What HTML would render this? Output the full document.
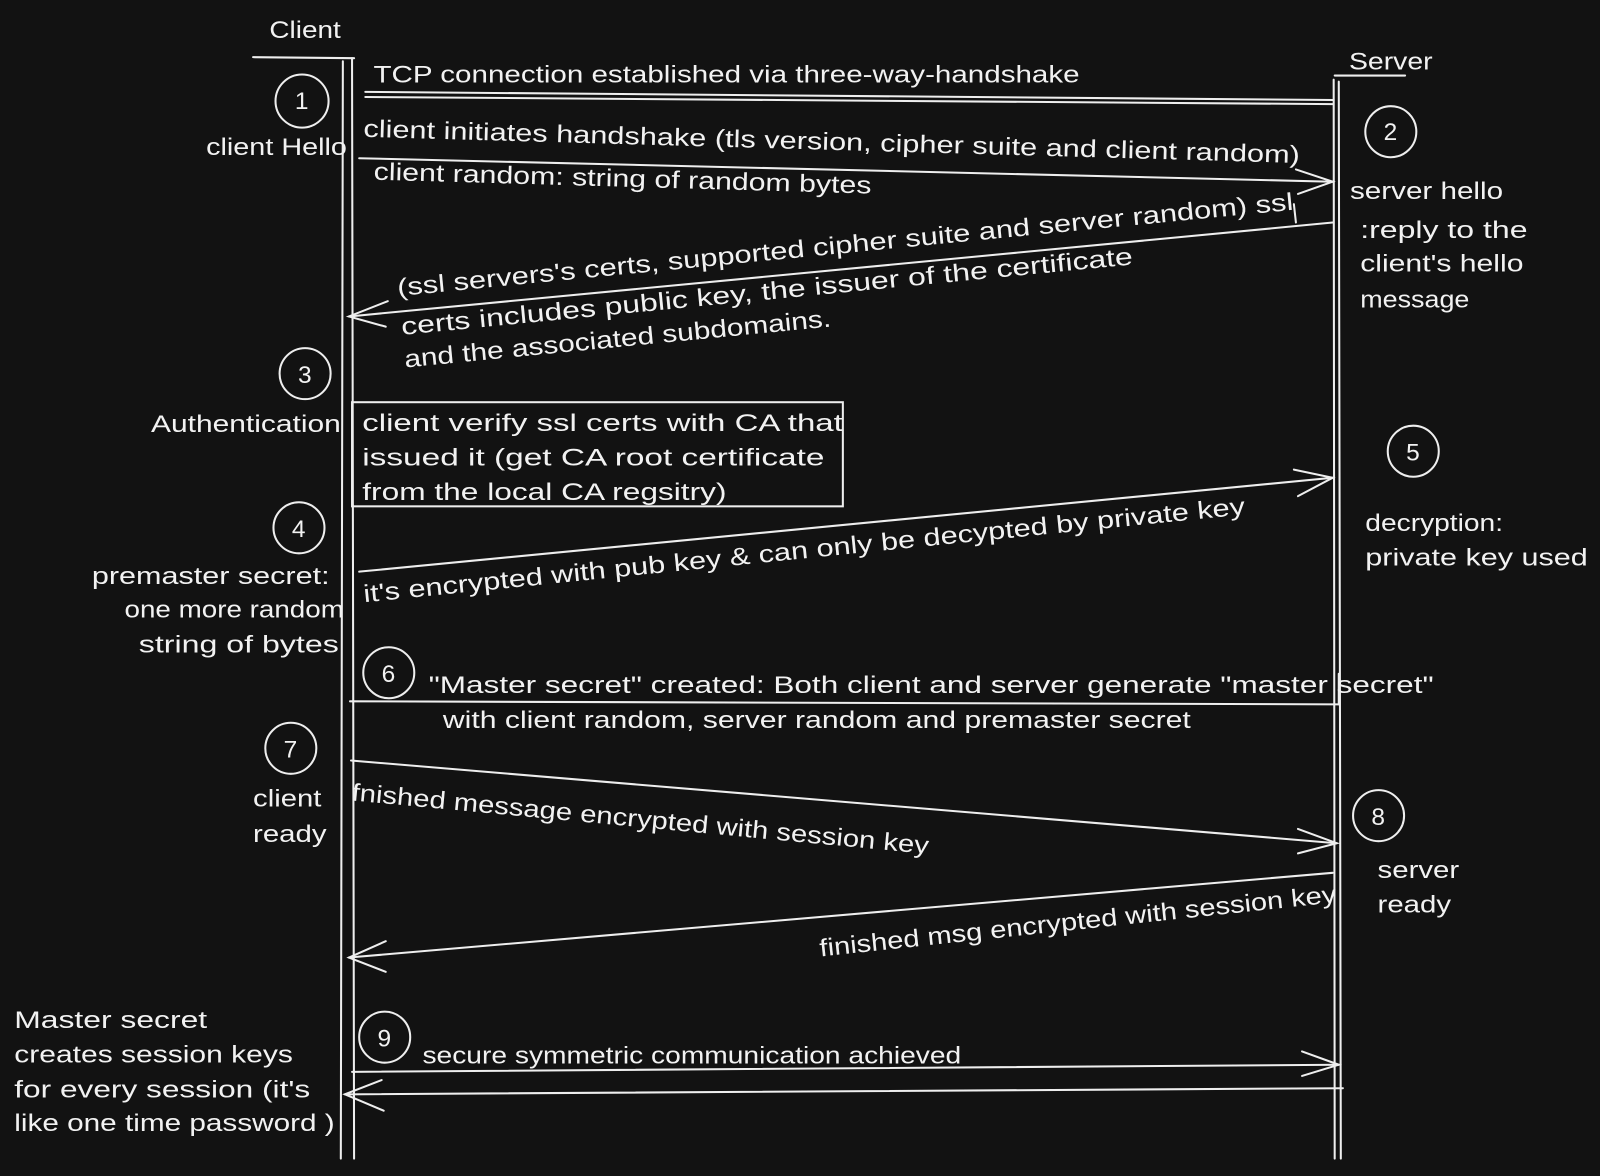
<!DOCTYPE html>
<html><head><meta charset="utf-8"><style>
html,body{margin:0;padding:0;background:#121212;}
svg{display:block;}
text{font-family:"Liberation Sans",sans-serif;fill:#f2f2f2;font-size:24px;}
</style></head><body>
<svg width="1600" height="1176" viewBox="0 0 1568 1152" preserveAspectRatio="none" xmlns="http://www.w3.org/2000/svg">
<rect width="1568" height="1152" fill="#121212"/>
<g stroke="#eeeeee" stroke-width="2" fill="none" stroke-linecap="round">
<path d="M248 56 L347 57"/><path d="M345 57 L347 1135"/><path d="M336 60 L334 1135"/>
<path d="M1308 74 L1377 74"/><path d="M1307 78 L1308 1135"/><path d="M1312 80 L1314 1135"/>
<path d="M358 90 L1307 98"/><path d="M358 95 L1306 102"/>
<path d="M352 155 L1306 178"/><path d="M1270 166 L1306 178 L1272 190"/>
<path d="M1306 218 L342 310"/><path d="M380 295 L342 310 L378 320"/><path d="M1268 200 L1270 218"/>
<rect x="345" y="394" width="481" height="102"/>
<path d="M352 560 L1306 468"/><path d="M1268 460 L1306 468 L1272 486"/>
<path d="M343 687 L1312 690"/><path d="M1312 660 L1312 690"/>
<path d="M344 745 L1310 826"/><path d="M1272 812 L1310 826 L1272 836"/>
<path d="M1306 855 L342 938"/><path d="M378 922 L342 938 L378 952"/>
<path d="M345 1050 L1312 1043"/><path d="M1276 1030 L1312 1043 L1276 1054"/>
<path d="M1316 1066 L338 1072"/><path d="M374 1058 L338 1072 L376 1088"/>
<circle cx="296" cy="99" r="26"/><circle cx="1363" cy="129" r="25"/><circle cx="299" cy="366" r="25"/>
<circle cx="1385" cy="442" r="25"/><circle cx="293" cy="517" r="25"/><circle cx="381" cy="659" r="25"/>
<circle cx="285" cy="733" r="25"/><circle cx="1351" cy="799" r="25"/><circle cx="377" cy="1016" r="25"/>
</g>
<g>
<text x="264" y="37" textLength="70" lengthAdjust="spacingAndGlyphs">Client</text>
<text x="1322" y="68" textLength="82" lengthAdjust="spacingAndGlyphs">Server</text>
<text x="366" y="81" textLength="692" lengthAdjust="spacingAndGlyphs">TCP connection established via three-way-handshake</text>
<text x="289" y="107">1</text><text x="1356" y="137">2</text><text x="292" y="375">3</text>
<text x="1378" y="451">5</text><text x="286" y="526">4</text><text x="374" y="668">6</text>
<text x="278" y="742">7</text><text x="1344" y="808">8</text><text x="370" y="1025">9</text>
<text x="202" y="152" textLength="138" lengthAdjust="spacingAndGlyphs">client Hello</text>
<text x="356" y="134" transform="rotate(1.6 356 134)" textLength="918" lengthAdjust="spacingAndGlyphs">client initiates handshake (tls version, cipher suite and client random)</text>
<text x="366" y="176" transform="rotate(1.6 366 176)" textLength="488" lengthAdjust="spacingAndGlyphs">client random: string of random bytes</text>
<text x="1323" y="195" textLength="150" lengthAdjust="spacingAndGlyphs">server hello</text>
<text x="1333" y="233" textLength="164" lengthAdjust="spacingAndGlyphs">:reply to the</text>
<text x="1333" y="266" textLength="160" lengthAdjust="spacingAndGlyphs">client's hello</text>
<text x="1333" y="301" textLength="107" lengthAdjust="spacingAndGlyphs">message</text>
<text x="390" y="290" transform="rotate(-5.5 390 290)" textLength="882" lengthAdjust="spacingAndGlyphs">(ssl servers's certs, supported cipher suite and server random) ssl</text>
<text x="394" y="328" transform="rotate(-5.5 394 328)" textLength="720" lengthAdjust="spacingAndGlyphs">certs includes public key, the issuer of the certificate</text>
<text x="397" y="360" transform="rotate(-5.5 397 360)" textLength="420" lengthAdjust="spacingAndGlyphs">and the associated subdomains.</text>
<text x="148" y="423" textLength="186" lengthAdjust="spacingAndGlyphs">Authentication</text>
<text x="355" y="422" textLength="471" lengthAdjust="spacingAndGlyphs">client verify ssl certs with CA that</text>
<text x="355" y="456" textLength="453" lengthAdjust="spacingAndGlyphs">issued it (get CA root certificate</text>
<text x="355" y="490" textLength="357" lengthAdjust="spacingAndGlyphs">from the local CA regsitry)</text>
<text x="357" y="590" transform="rotate(-5.7 357 590)" textLength="868" lengthAdjust="spacingAndGlyphs">it's encrypted with pub key &amp; can only be decypted by private key</text>
<text x="1338" y="520" textLength="135" lengthAdjust="spacingAndGlyphs">decryption:</text>
<text x="1338" y="554" textLength="218" lengthAdjust="spacingAndGlyphs">private key used</text>
<text x="90" y="572" textLength="233" lengthAdjust="spacingAndGlyphs">premaster secret:</text>
<text x="122" y="605" textLength="215" lengthAdjust="spacingAndGlyphs">one more random</text>
<text x="136" y="639" textLength="196" lengthAdjust="spacingAndGlyphs">string of bytes</text>
<text x="420" y="679" textLength="985" lengthAdjust="spacingAndGlyphs">"Master secret" created: Both client and server generate "master secret"</text>
<text x="434" y="713" textLength="733" lengthAdjust="spacingAndGlyphs">with client random, server random and premaster secret</text>
<text x="248" y="790" textLength="67" lengthAdjust="spacingAndGlyphs">client</text>
<text x="248" y="825" textLength="72" lengthAdjust="spacingAndGlyphs">ready</text>
<text x="344" y="784" transform="rotate(5.3 344 784)" textLength="568" lengthAdjust="spacingAndGlyphs">fnished message encrypted with session key</text>
<text x="1350" y="860" textLength="80" lengthAdjust="spacingAndGlyphs">server</text>
<text x="1350" y="894" textLength="72" lengthAdjust="spacingAndGlyphs">ready</text>
<text x="804" y="937" transform="rotate(-6 804 937)" textLength="509" lengthAdjust="spacingAndGlyphs">finished msg encrypted with session key</text>
<text x="14" y="1007" textLength="189" lengthAdjust="spacingAndGlyphs">Master secret</text>
<text x="14" y="1041" textLength="273" lengthAdjust="spacingAndGlyphs">creates session keys</text>
<text x="14" y="1075" textLength="290" lengthAdjust="spacingAndGlyphs">for every session (it's</text>
<text x="14" y="1108" textLength="314" lengthAdjust="spacingAndGlyphs">like one time password )</text>
<text x="414" y="1042" textLength="528" lengthAdjust="spacingAndGlyphs">secure symmetric communication achieved</text>
</g>
</svg>
</body></html>
